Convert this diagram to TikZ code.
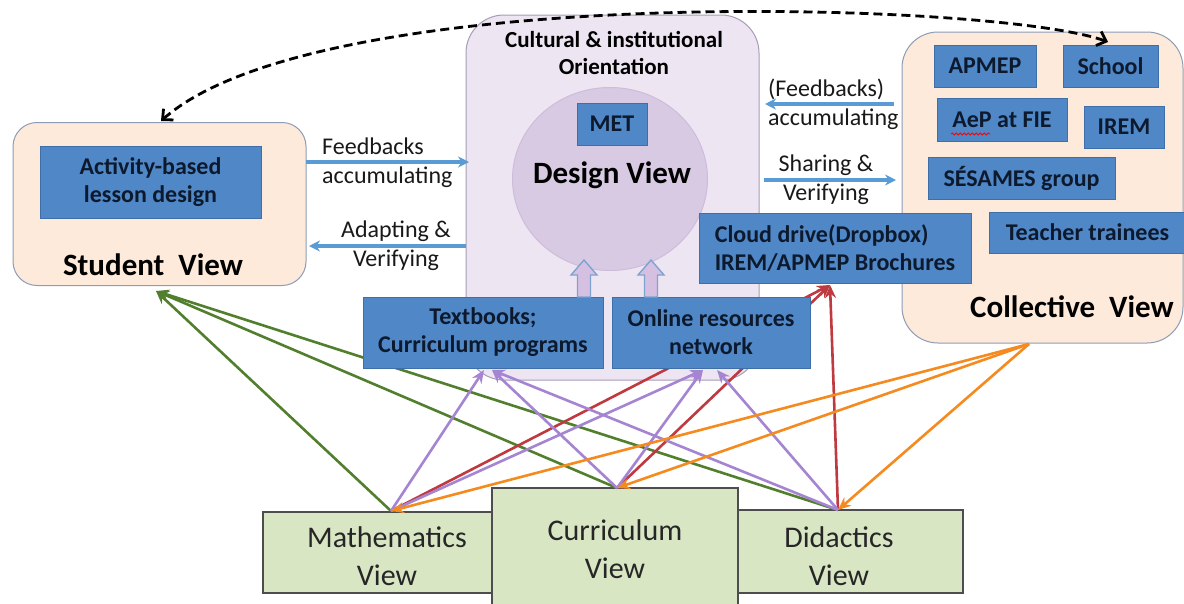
\documentclass[tikz,border=0pt]{standalone}
\usepackage{fontspec}
\setmainfont{Carlito}
\usetikzlibrary{arrows.meta,shapes.geometric,decorations.pathmorphing}
\definecolor{peach}{HTML}{FDEADA}
\definecolor{peachbd}{HTML}{8C9DB8}
\definecolor{lavF}{HTML}{EEE5F2}
\definecolor{lavbd}{HTML}{A79DB9}
\definecolor{circF}{HTML}{D9CAE4}
\definecolor{circbd}{HTML}{CDBCDB}
\definecolor{blueF}{HTML}{4F87C7}
\definecolor{bluebd}{HTML}{3E6FA8}
\definecolor{navy}{HTML}{0D1A2E}
\definecolor{arrowblue}{HTML}{5B9BD5}
\definecolor{gline}{HTML}{527F2E}
\definecolor{pline}{HTML}{A585D2}
\definecolor{rline}{HTML}{BE3A40}
\definecolor{oline}{HTML}{F58A1F}
\definecolor{viewF}{HTML}{D8E6C4}
\definecolor{viewbd}{HTML}{4D4D4D}
\definecolor{hollowF}{HTML}{D5C0E1}
\definecolor{hollowD}{HTML}{7FA3CF}
\begin{document}
\begin{tikzpicture}[x=1pt,y=-1pt,
  bluebox/.style={draw=bluebd, line width=0.8pt, fill=blueF, text=navy,
    font=\bfseries\fontsize{24}{28}\selectfont, align=center, inner sep=0pt},
  viewbox/.style={draw=viewbd, line width=1.5pt, fill=viewF, inner sep=0pt},
  viewtxt/.style={font=\fontsize{30}{38}\selectfont, align=center, inner sep=0pt, text=black!85},
  titletxt/.style={font=\bfseries\fontsize{31}{34}\selectfont, inner sep=0pt, text=black},
  lbl/.style={font=\fontsize{24}{29}\selectfont, inner sep=0pt, text=black!90},
  barrow/.style={draw=arrowblue, line width=3.5pt, -{Stealth[length=11pt,width=11pt]}},
  conn/.style={line width=2.6pt, -{Stealth[length=13pt,width=11pt]}},
  dashcurve/.style={draw=black, line width=2.8pt, dash pattern=on 9pt off 5pt,
    {Straight Barb[length=8pt,width=15pt]}-{Straight Barb[length=8pt,width=15pt]}},
]
\useasboundingbox[fill=white] (0,0) rectangle (1184,603);

% Design view container and circle
\node[draw=lavbd, line width=1pt, fill=lavF, rounded corners=38pt,
  minimum width=293pt, minimum height=365pt, inner sep=0pt] (design) at (612.5,197.5) {};
\node[ellipse, draw=circbd, line width=1pt, fill=circF, minimum width=195pt,
  minimum height=183pt, inner sep=0pt] (circ) at (610,179) {};

% Student and collective containers
\node[draw=peachbd, line width=1pt, fill=peach, rounded corners=24pt,
  minimum width=293pt, minimum height=163pt, inner sep=0pt] (student) at (159.5,204) {};
\node[draw=peachbd, line width=1pt, fill=peach, rounded corners=36pt,
  minimum width=281pt, minimum height=311pt, inner sep=0pt] (collective) at (1042.5,187.5) {};

% bottom view boxes
\node[viewbox, minimum width=231pt, minimum height=81pt] (math) at (378.5,552.5) {};
\node[viewbox, minimum width=225pt, minimum height=83pt] (did) at (850.5,551.5) {};
\node[viewbox, minimum width=246pt, minimum height=124pt] (cur) at (615,550) {};
\node[viewtxt] (mathlbl) at (387,556) {Mathematics\\View};
\node[viewtxt] (curlbl) at (615,549) {Curriculum\\View};
\node[viewtxt] (didlbl) at (839,556) {Didactics\\View};

% connector end points
\coordinate (Mp) at (391,511);
\coordinate (Cp) at (617,488);
\coordinate (Dp) at (838,510);
\coordinate (Sp) at (156,291);
\coordinate (Tp) at (484,370);
\coordinate (Tp2) at (492,370);
\coordinate (Op) at (703,370);
\coordinate (Op2) at (717,370);
\coordinate (Clp) at (830,285);
\coordinate (Kp) at (1029,344);

% green
\draw[conn, draw=gline] (Mp) -- (Sp);
\draw[conn, draw=gline] (Cp) -- (Sp);
\draw[conn, draw=gline] (Dp) -- (Sp);
% red
\draw[conn, draw=rline] (Mp) -- (Clp);
\draw[conn, draw=rline] (Cp) -- (Clp);
\draw[conn, draw=rline] (Dp) -- (Clp);
% purple
\draw[conn, draw=pline] (Mp) -- (Tp);
\draw[conn, draw=pline] (Cp) -- (Tp2);
\draw[conn, draw=pline] (Dp) -- (Tp2);
\draw[conn, draw=pline] (Mp) -- (Op);
\draw[conn, draw=pline] (Cp) -- (Op);
\draw[conn, draw=pline] (Dp) -- (Op2);
% orange
\draw[conn, draw=oline] (Kp) -- (Mp);
\draw[conn, draw=oline] (Kp) -- (Cp);
\draw[conn, draw=oline] (Kp) -- (Dp);

% blue boxes
\node[bluebox, minimum width=221pt, minimum height=72pt] (act) at (150.5,182) {Activity-based\\lesson design};
\node[bluebox, minimum width=70pt, minimum height=42pt] (met) at (612,124) {MET};
\node[bluebox, minimum width=240pt, minimum height=71pt] (text) at (483,332.5) {Textbooks;\\Curriculum programs};
\node[bluebox, minimum width=198pt, minimum height=71pt] (online) at (711,332.5) {Online resources\\network};
\node[bluebox, minimum width=272pt, minimum height=70pt, align=left] (cloud) at (835,248) {Cloud drive(Dropbox)\\IREM/APMEP Brochures};
\node[bluebox, minimum width=102pt, minimum height=42pt] (apmep) at (985,66) {APMEP};
\node[bluebox, minimum width=95pt, minimum height=42pt] (school) at (1110.5,66) {School};
\node[bluebox, minimum width=130pt, minimum height=43pt] (aep) at (1002,119.5) {AeP at FIE};
\node[bluebox, minimum width=80pt, minimum height=42pt] (irem) at (1124,127) {IREM};
\node[bluebox, minimum width=187pt, minimum height=42pt] (sesames) at (1021.5,178) {SÉSAMES group};
\node[bluebox, minimum width=197pt, minimum height=41pt] (teacher) at (1087.5,232.5) {Teacher trainees};
\draw[draw=red, line width=0.8pt, decorate, decoration={snake, amplitude=1pt, segment length=4pt}]
  (951,134) -- (990,134);

% hollow arrows into the design circle
\foreach \cx in {584,651} {
  \draw[fill=hollowF, draw=hollowD, line width=1.4pt]
    (\cx-6.5,297) -- (\cx-6.5,275) -- (\cx-13,275) -- (\cx,260) -- (\cx+13,275)
    -- (\cx+6.5,275) -- (\cx+6.5,297) -- cycle;
}

% titles
\node[font=\bfseries\fontsize{23}{27}\selectfont, align=center, inner sep=0pt] (cult) at (614,53) {Cultural \& institutional\\Orientation};
\node[titletxt] (designlbl) at (612,175) {Design View};
\node[titletxt] (studentlbl) at (153,265) {Student\ \ View};
\node[titletxt] (collectivelbl) at (1072,307) {Collective\ \ View};

% blue horizontal arrows and labels
\coordinate (fa1) at (306,162); \coordinate (fa2) at (469,162);
\coordinate (av1) at (466,246); \coordinate (av2) at (309,246);
\coordinate (fb1) at (894,104); \coordinate (fb2) at (765,104);
\coordinate (sv1) at (764,180); \coordinate (sv2) at (896,180);
\draw[barrow] (fa1) -- (fa2);
\draw[barrow] (av1) -- (av2);
\draw[barrow] (fb1) -- (fb2);
\draw[barrow] (sv1) -- (sv2);
\node[lbl, align=left, anchor=west] (falbl) at (322,162.5) {Feedbacks\\accumulating};
\node[lbl, align=center] (avlbl) at (396,245.5) {Adapting \&\\Verifying};
\node[lbl, align=left, anchor=west] (fblbl) at (768,104) {(Feedbacks)\\accumulating};
\node[lbl, align=center] (svlbl) at (826,179.5) {Sharing \&\\Verifying};

% dashed curve between student and collective view
\coordinate (dS) at (161,121);
\coordinate (dE) at (1108,42);
\draw[dashcurve] (dS) .. controls (320,-20) and (1000,2) .. (dE);
\end{tikzpicture}
\end{document}
